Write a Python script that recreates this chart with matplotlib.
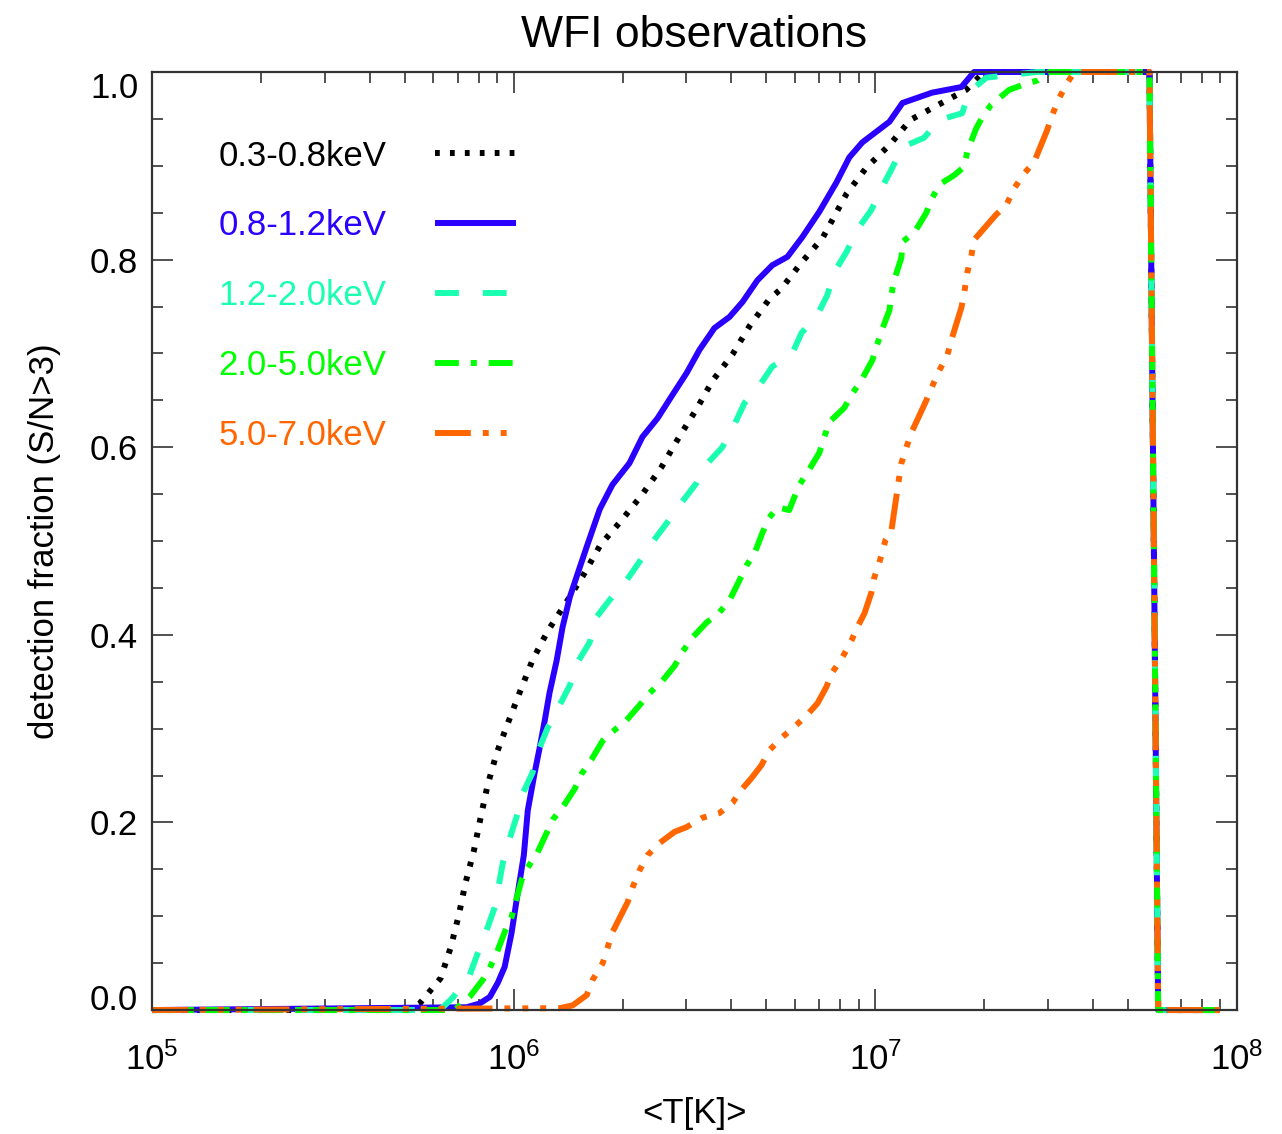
import numpy as np
import matplotlib
matplotlib.use('Agg')
import matplotlib.pyplot as plt
from matplotlib.ticker import FixedLocator, MultipleLocator, LogLocator, NullFormatter

plt.rcParams['font.family'] = ['Liberation Sans', 'DejaVu Sans']
plt.rcParams['mathtext.fontset'] = 'custom'
plt.rcParams['mathtext.rm'] = 'Liberation Sans'
plt.rcParams['mathtext.it'] = 'Liberation Sans:italic'

# log10(T) y fraccion detectada
lt_03 = [5.0, 5.713, 5.740, 5.798, 5.826, 5.848, 5.867, 5.890, 5.909, 5.928, 5.953, 5.986,
         6.019, 6.052, 6.094, 6.146, 6.193, 6.240, 6.298, 6.356, 6.409, 6.456, 6.506,
         6.550, 6.605, 6.652, 6.707, 6.740, 6.796, 6.854, 6.920, 6.975, 7.041, 7.097,
         7.174, 7.251, 7.301]
fr_03 = [0.0, 0.0, 0.007, 0.034, 0.067, 0.101, 0.136, 0.170, 0.206, 0.240, 0.274, 0.308,
         0.341, 0.373, 0.404, 0.435, 0.464, 0.496, 0.522, 0.550, 0.579, 0.610, 0.641,
         0.671, 0.699, 0.729, 0.758, 0.769, 0.797, 0.823, 0.870, 0.898, 0.923, 0.949,
         0.965, 0.981, 1.0]

lt_08 = [5.0, 5.870, 5.906, 5.934, 5.956, 5.975, 5.994, 6.008, 6.028, 6.039, 6.058, 6.072,
         6.086, 6.099, 6.119, 6.135, 6.155, 6.174, 6.202, 6.238, 6.273, 6.320, 6.356,
         6.398, 6.436, 6.478, 6.514, 6.555, 6.597, 6.633, 6.674, 6.715, 6.757, 6.798,
         6.845, 6.892, 6.928, 6.964, 7.039, 7.075, 7.157, 7.238, 7.273]
fr_08 = [0.0, 0.003, 0.007, 0.014, 0.029, 0.046, 0.082, 0.117, 0.165, 0.213, 0.253, 0.280,
         0.309, 0.338, 0.373, 0.408, 0.440, 0.462, 0.494, 0.534, 0.560, 0.583, 0.611,
         0.631, 0.654, 0.679, 0.704, 0.727, 0.739, 0.755, 0.778, 0.794, 0.803, 0.824,
         0.851, 0.882, 0.909, 0.925, 0.947, 0.967, 0.978, 0.984, 1.0]

lt_12 = [5.0, 5.796, 5.831, 5.878, 5.901, 5.925, 5.948, 5.970, 5.989, 6.008, 6.025, 6.052,
         6.072, 6.094, 6.127, 6.155, 6.177, 6.210, 6.229, 6.265, 6.312, 6.348, 6.384,
         6.423, 6.464, 6.506, 6.536, 6.577, 6.610, 6.638, 6.680, 6.715, 6.768, 6.796,
         6.837, 6.867, 6.887, 6.920, 6.950, 6.989, 7.017, 7.047, 7.075, 7.135, 7.177,
         7.240, 7.260, 7.307, 7.378, 7.445]
fr_12 = [0.0, 0.0, 0.013, 0.037, 0.061, 0.085, 0.110, 0.157, 0.183, 0.206, 0.231, 0.253,
         0.280, 0.301, 0.325, 0.346, 0.371, 0.392, 0.419, 0.437, 0.458, 0.478, 0.499,
         0.519, 0.541, 0.562, 0.583, 0.600, 0.624, 0.647, 0.666, 0.686, 0.698, 0.722,
         0.739, 0.762, 0.787, 0.808, 0.832, 0.853, 0.876, 0.898, 0.920, 0.930, 0.949,
         0.956, 0.979, 0.994, 0.997, 1.0]

lt_20 = [5.0, 5.837, 5.851, 5.878, 5.914, 5.934, 5.956, 5.975, 5.994, 6.022, 6.039, 6.066,
         6.108, 6.135, 6.169, 6.188, 6.215, 6.246, 6.271, 6.312, 6.348, 6.376, 6.409,
         6.445, 6.467, 6.494, 6.533, 6.569, 6.597, 6.624, 6.644, 6.666, 6.688, 6.707,
         6.729, 6.762, 6.771, 6.790, 6.812, 6.845, 6.859, 6.873, 6.914, 6.936, 6.961,
         6.992, 7.003, 7.017, 7.039, 7.044, 7.052, 7.072, 7.075, 7.108, 7.141, 7.155,
         7.177, 7.218, 7.246, 7.254, 7.279, 7.296, 7.320, 7.370, 7.406, 7.448, 7.481]
fr_20 = [0.0, 0.0, 0.005, 0.014, 0.032, 0.045, 0.064, 0.083, 0.099, 0.139, 0.152, 0.168,
         0.203, 0.216, 0.236, 0.252, 0.267, 0.287, 0.296, 0.309, 0.325, 0.338, 0.350,
         0.367, 0.382, 0.397, 0.413, 0.424, 0.437, 0.458, 0.474, 0.487, 0.509, 0.525,
         0.536, 0.533, 0.542, 0.560, 0.573, 0.594, 0.611, 0.627, 0.642, 0.657, 0.671,
         0.693, 0.707, 0.724, 0.746, 0.762, 0.778, 0.802, 0.819, 0.829, 0.850, 0.864,
         0.880, 0.890, 0.899, 0.915, 0.940, 0.952, 0.965, 0.981, 0.986, 0.991, 1.0]

lt_50 = [5.0, 6.127, 6.163, 6.202, 6.218, 6.246, 6.273, 6.315, 6.329, 6.348, 6.370, 6.403,
         6.445, 6.478, 6.522, 6.569, 6.605, 6.630, 6.657, 6.685, 6.707, 6.743, 6.782,
         6.812, 6.840, 6.864, 6.881, 6.909, 6.934, 6.950, 6.970, 6.989, 6.997, 7.011,
         7.028, 7.044, 7.064, 7.072, 7.086, 7.099, 7.141, 7.155, 7.177, 7.199, 7.210,
         7.238, 7.246, 7.254, 7.265, 7.273, 7.334, 7.362, 7.384, 7.412, 7.439, 7.475,
         7.489, 7.508, 7.530, 7.550]
fr_50 = [0.0, 0.002, 0.005, 0.016, 0.032, 0.050, 0.083, 0.115, 0.131, 0.149, 0.165, 0.178,
         0.190, 0.195, 0.205, 0.210, 0.221, 0.235, 0.247, 0.261, 0.277, 0.291, 0.304,
         0.315, 0.327, 0.344, 0.360, 0.376, 0.394, 0.408, 0.423, 0.445, 0.461, 0.477,
         0.501, 0.510, 0.563, 0.583, 0.600, 0.615, 0.650, 0.663, 0.682, 0.698, 0.714,
         0.749, 0.765, 0.786, 0.803, 0.821, 0.848, 0.858, 0.876, 0.892, 0.904, 0.938,
         0.954, 0.972, 0.988, 1.0]

# tramo final comun: meseta en 1 y caida a 0
lt_tail = [7.758, 7.782, 7.953]
fr_tail = [1.0, 0.0, 0.0]

etiquetas = ['0.3-0.8keV', '0.8-1.2keV', '1.2-2.0keV', '2.0-5.0keV', '5.0-7.0keV']
colores = ['black', '#2a00ff', '#1affb0', '#00ff00', '#ff6600']
estilos = [(0, (0.8, 1.7)), '-', (0, (4, 4)), (0, (4, 2, 1, 2)),
           (0, (6, 2, 1, 2, 1, 2, 1, 2))]
series = [(lt_03, fr_03), (lt_08, fr_08), (lt_12, fr_12), (lt_20, fr_20), (lt_50, fr_50)]

fig = plt.figure(figsize=(12.82, 11.34), dpi=100)
ax = fig.add_axes([0.1186, 0.1093, 0.8463, 0.8272])

for (lt, fr), lab, col, ls in zip(series, etiquetas, colores, estilos):
    T = 10 ** np.array(lt + lt_tail)
    f = np.array(fr + fr_tail)
    ax.plot(T, f, color=col, ls=ls, lw=4.3, label=lab, clip_on=False,
            dash_capstyle='butt', solid_capstyle='butt')

ax.set_xscale('log')
ax.set_xlim(1e5, 1e8)
ax.set_ylim(0, 1)

ax.xaxis.set_major_locator(FixedLocator([1e5, 1e6, 1e7, 1e8]))
ax.xaxis.set_minor_locator(LogLocator(base=10, subs=np.arange(2, 10), numticks=20))
ax.xaxis.set_minor_formatter(NullFormatter())
ax.set_yticks([0, 0.2, 0.4, 0.6, 0.8, 1.0])
ax.set_yticklabels(['0.0', '0.2', '0.4', '0.6', '0.8', '1.0'])
ax.yaxis.set_minor_locator(MultipleLocator(0.05))

ax.tick_params(which='both', direction='in', top=True, right=True, width=1.2,
               color='#333333', labelsize=25)
ax.tick_params(which='major', length=15)
ax.tick_params(which='minor', length=8)
ax.tick_params(axis='x', which='major', pad=23)
ax.tick_params(axis='y', which='major', pad=10)
for s in ax.spines.values():
    s.set_linewidth(1.6)
    s.set_color('#333333')

# etiquetas extremas del eje y dentro del rango
yt = ax.yaxis.get_major_ticks()
yt[0].label1.set_va('baseline')
yt[-1].label1.set_va('top')

ax.set_title('WFI observations', fontsize=32, pad=18)
ax.set_xlabel('<T[K]>', fontsize=25, labelpad=15)
ax.set_ylabel('detection fraction (S/N>3)', fontsize=25, labelpad=21)

leg = ax.legend(loc='upper left', bbox_to_anchor=(0.061, 0.928), frameon=False,
                markerfirst=False, labelcolor='linecolor', fontsize=25,
                handlelength=2.35, handletextpad=1.4, labelspacing=1.06,
                borderpad=0, borderaxespad=0)

fig.savefig('out.png', dpi=100)
